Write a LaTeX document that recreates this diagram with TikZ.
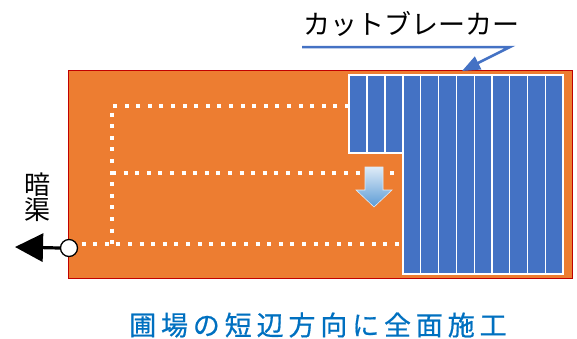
\documentclass[tikz,border=0pt]{standalone}
\usepackage{fontspec}
\newfontfamily\jp{Noto Sans CJK JP}
\newfontfamily\jpb[FakeBold=0.6]{Noto Sans CJK JP}
\usetikzlibrary{arrows.meta}
\definecolor{field}{HTML}{ED7D31}
\definecolor{fieldedge}{HTML}{C00000}
\definecolor{strip}{HTML}{4472C4}
\definecolor{labelblue}{HTML}{0070C0}
\definecolor{arrowtop}{HTML}{DEEBF7}
\definecolor{arrowbot}{HTML}{5B9BD5}
\tikzset{
  stripbox/.style={fill=strip, draw=white, line width=1.2pt},
  dotline/.style={draw=white, line width=4pt, dash pattern=on 4pt off 7.6pt},
  pointer/.style={draw=strip, line width=2.5pt},
}
\begin{document}
\begin{tikzpicture}[x=1pt,y=-1pt]
\useasboundingbox (0,0) rectangle (577,338);
% field
\node[draw=fieldedge, fill=field, line width=1pt, minimum width=504pt, minimum height=208pt, inner sep=0pt, anchor=north west] (field) at (68,70) {};
% dotted drains
\draw[dotline] (349,106) -- (112,106) -- (112,244);
\draw[dotline] (112,173) -- (397,173);
\coordinate (bstart) at (70,244);
\coordinate (bend) at (400,244);
\draw[dotline] (bstart) -- (bend);
% strips
\foreach \i in {0,1,2} {
  \path[stripbox] (349+\i*18,75) rectangle (367+\i*18,153);
}
\foreach \i in {0,...,8} {
  \path[stripbox] (403+\i*17.78,75) rectangle (420.78+\i*17.78,274);
}
% outlet
\node[circle, draw=black, fill=white, line width=1.3pt, minimum size=17pt, inner sep=0pt] (outlet) at (69,248) {};
\coordinate (drainend) at (15,247);
\draw[line width=3.2pt, -{Triangle[length=28pt,width=28pt]}] (outlet.west) -- (drainend);
\node[font=\jp\fontsize{26}{25}\selectfont, align=center, inner sep=0pt] (anky) at (37,197) {暗\\渠};
% down arrow
\shade[top color=arrowtop, bottom color=arrowbot, draw=arrowtop, line width=0.6pt]
  (365,167) -- (383,167) -- (383,190) -- (392,190) -- (374,207) -- (356,190) -- (365,190) -- cycle;
% label
\node[font=\jp\fontsize{27}{30}\selectfont, inner sep=0pt, anchor=west] (cb) at (303,24) {カットブレーカー};
\coordinate (ulstart) at (302,47);
\coordinate (ulend) at (510,47);
\coordinate (tip) at (462,71);
\draw[pointer, -{Triangle[length=18pt,width=14pt]}] (ulstart) -- (ulend) -- (tip);
% caption
\node[font=\jpb\fontsize{27}{30}\selectfont, text=labelblue, inner sep=0pt, anchor=west] (cap) at (129,325) {\addfontfeature{LetterSpace=18}圃場の短辺方向に全面施工};
\end{tikzpicture}
\end{document}
